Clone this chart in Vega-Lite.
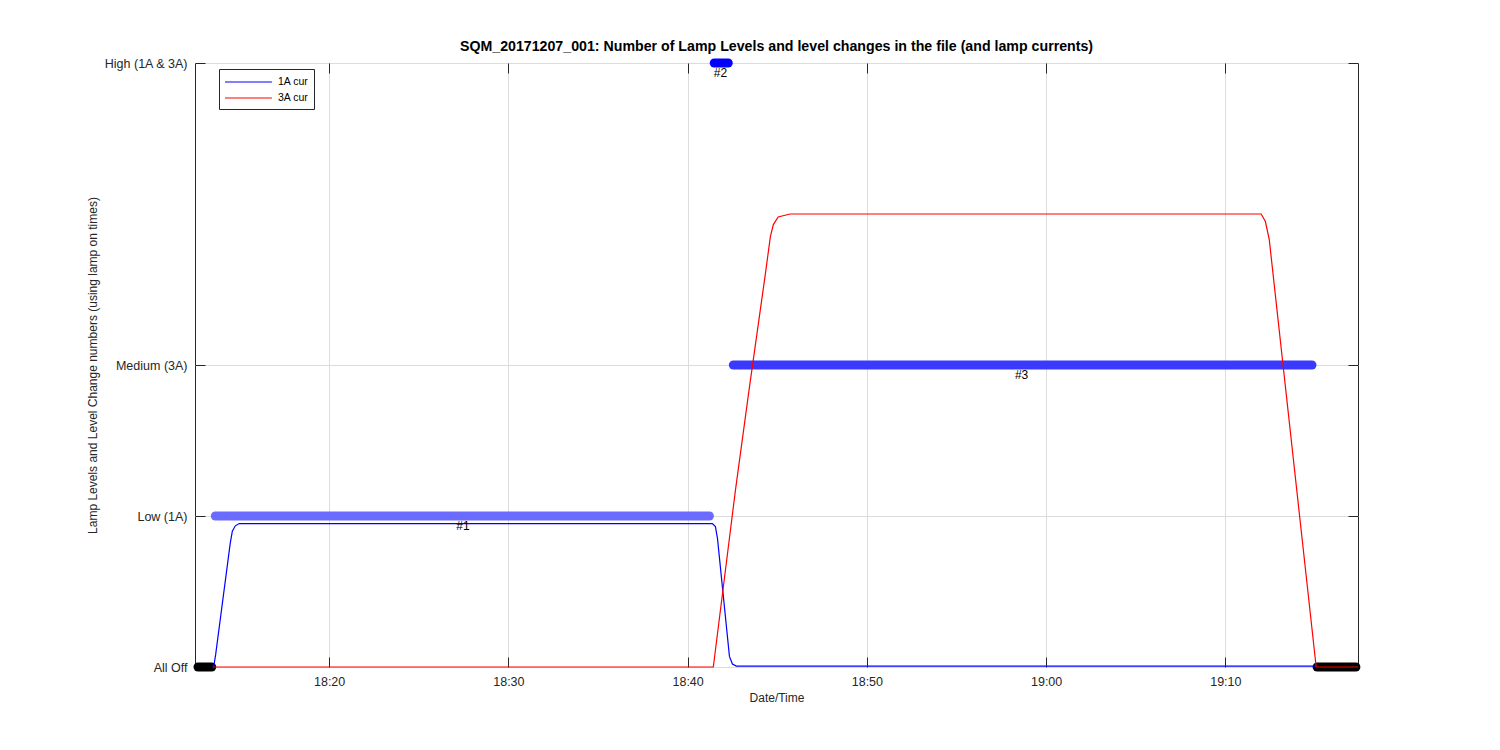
{
  "$schema": "https://vega.github.io/schema/vega-lite/v6.json",
  "autosize": "none",
  "width": 1163,
  "height": 604,
  "padding": {"left": 195, "top": 63, "right": 142, "bottom": 83},
  "background": "white",
  "config": {
    "font": "Liberation Sans",
    "view": {"stroke": "#262626", "strokeWidth": 1},
    "axis": {"labelFont": "Liberation Sans", "titleFont": "Liberation Sans", "labelColor": "#262626", "titleColor": "#262626", "labelFontSize": 12.5, "titleFontSize": 12, "titleFontWeight": "normal", "gridColor": "#dcdcdc", "gridWidth": 1, "domain": false, "tickColor": "#262626"}
  },
  "title": {"text": "SQM_20171207_001: Number of Lamp Levels and level changes in the file (and lamp currents)", "fontSize": 14.2, "fontWeight": "bold", "font": "Liberation Sans", "color": "#000000", "anchor": "middle", "frame": "group", "offset": -9},
  "datasets": {
    "dots": [
      {"time": "2017-12-07T18:12:41", "level": 0, "seg": "offL"},
      {"time": "2017-12-07T18:13:27", "level": 0, "seg": "offL"},
      {"time": "2017-12-07T18:13:39", "level": 1, "seg": "low"},
      {"time": "2017-12-07T18:41:13", "level": 1, "seg": "low"},
      {"time": "2017-12-07T18:41:29", "level": 4, "seg": "high"},
      {"time": "2017-12-07T18:42:16", "level": 4, "seg": "high"},
      {"time": "2017-12-07T18:42:33", "level": 2, "seg": "med"},
      {"time": "2017-12-07T19:14:50", "level": 2, "seg": "med"},
      {"time": "2017-12-07T19:15:07", "level": 0, "seg": "offR"},
      {"time": "2017-12-07T19:17:17", "level": 0, "seg": "offR"}
    ],
    "cur": [
      {"time": "2017-12-07T18:13:31", "value": 0, "series": "1A cur"},
      {"time": "2017-12-07T18:13:35", "value": 0.02, "series": "1A cur"},
      {"time": "2017-12-07T18:13:40", "value": 0.08, "series": "1A cur"},
      {"time": "2017-12-07T18:14:29", "value": 0.82, "series": "1A cur"},
      {"time": "2017-12-07T18:14:36", "value": 0.9, "series": "1A cur"},
      {"time": "2017-12-07T18:14:46", "value": 0.935, "series": "1A cur"},
      {"time": "2017-12-07T18:14:59", "value": 0.95, "series": "1A cur"},
      {"time": "2017-12-07T18:41:23", "value": 0.95, "series": "1A cur"},
      {"time": "2017-12-07T18:41:33", "value": 0.93, "series": "1A cur"},
      {"time": "2017-12-07T18:41:40", "value": 0.85, "series": "1A cur"},
      {"time": "2017-12-07T18:42:20", "value": 0.07, "series": "1A cur"},
      {"time": "2017-12-07T18:42:30", "value": 0.02, "series": "1A cur"},
      {"time": "2017-12-07T18:42:43", "value": 0.006, "series": "1A cur"},
      {"time": "2017-12-07T19:15:04", "value": 0.006, "series": "1A cur"},
      {"time": "2017-12-07T18:13:31", "value": 0, "series": "3A cur"},
      {"time": "2017-12-07T18:41:26", "value": 0, "series": "3A cur"},
      {"time": "2017-12-07T18:42:40", "value": 1.17, "series": "3A cur"},
      {"time": "2017-12-07T18:43:26", "value": 1.84, "series": "3A cur"},
      {"time": "2017-12-07T18:44:20", "value": 2.6, "series": "3A cur"},
      {"time": "2017-12-07T18:44:37", "value": 2.85, "series": "3A cur"},
      {"time": "2017-12-07T18:44:47", "value": 2.93, "series": "3A cur"},
      {"time": "2017-12-07T18:45:03", "value": 2.98, "series": "3A cur"},
      {"time": "2017-12-07T18:45:43", "value": 3.0, "series": "3A cur"},
      {"time": "2017-12-07T19:12:00", "value": 3.0, "series": "3A cur"},
      {"time": "2017-12-07T19:12:14", "value": 2.95, "series": "3A cur"},
      {"time": "2017-12-07T19:12:27", "value": 2.83, "series": "3A cur"},
      {"time": "2017-12-07T19:15:04", "value": 0, "series": "3A cur"},
      {"time": "2017-12-07T19:17:24", "value": 0, "series": "3A cur"}
    ],
    "labels": [
      {"time": "2017-12-07T18:27:28", "level": 1, "label": "#1"},
      {"time": "2017-12-07T18:41:50", "level": 4, "label": "#2"},
      {"time": "2017-12-07T18:58:38", "level": 2, "label": "#3"}
    ]
  },
  "resolve": {"scale": {"color": "independent"}, "axis": {"x": "independent", "y": "independent"}},
  "layer": [
    {
      "data": {"name": "dots"},
      "mark": {"type": "line", "strokeWidth": 9, "strokeCap": "round"},
      "encoding": {
        "x": {"field": "time", "type": "temporal",
          "scale": {"domain": [{"year": 2017, "month": 12, "date": 7, "hours": 18, "minutes": 12, "seconds": 31}, {"year": 2017, "month": 12, "date": 7, "hours": 19, "minutes": 17, "seconds": 24}]},
          "axis": {"title": "Date/Time", "format": "%H:%M", "values": [
            {"year": 2017, "month": 12, "date": 7, "hours": 18, "minutes": 20},
            {"year": 2017, "month": 12, "date": 7, "hours": 18, "minutes": 30},
            {"year": 2017, "month": 12, "date": 7, "hours": 18, "minutes": 40},
            {"year": 2017, "month": 12, "date": 7, "hours": 18, "minutes": 50},
            {"year": 2017, "month": 12, "date": 7, "hours": 19, "minutes": 0},
            {"year": 2017, "month": 12, "date": 7, "hours": 19, "minutes": 10}],
            "tickSize": -10, "labelPadding": 18, "titlePadding": 5, "grid": true}},
        "y": {"field": "level", "type": "quantitative",
          "axis": {"title": "Lamp Levels and Level Change numbers (using lamp on times)", "values": [0, 1, 2, 4], "labelExpr": "datum.value == 0 ? 'All Off' : datum.value == 1 ? 'Low (1A)' : datum.value == 2 ? 'Medium (3A)' : 'High (1A & 3A)'", "tickSize": -10, "labelPadding": 18, "grid": true, "titleX": -103, "titleY": 302, "titleBaseline": "middle"}},
        "detail": {"field": "seg"},
        "color": {"field": "seg", "type": "nominal", "legend": null, "scale": {"domain": ["offL", "low", "high", "med", "offR"], "range": ["#000000", "#6b6bff", "#0000ff", "#3a3aff", "#000000"]}}
      }
    },
    {
      "data": {"name": "cur"},
      "mark": {"type": "line", "strokeWidth": 1.2},
      "encoding": {
        "x": {"field": "time", "type": "temporal",
          "axis": {"orient": "top", "labels": false, "title": null, "grid": false, "tickSize": -10, "values": [
            {"year": 2017, "month": 12, "date": 7, "hours": 18, "minutes": 20},
            {"year": 2017, "month": 12, "date": 7, "hours": 18, "minutes": 30},
            {"year": 2017, "month": 12, "date": 7, "hours": 18, "minutes": 40},
            {"year": 2017, "month": 12, "date": 7, "hours": 18, "minutes": 50},
            {"year": 2017, "month": 12, "date": 7, "hours": 19, "minutes": 0},
            {"year": 2017, "month": 12, "date": 7, "hours": 19, "minutes": 10}]}},
        "y": {"field": "value", "type": "quantitative",
          "axis": {"orient": "right", "labels": false, "title": null, "grid": false, "tickSize": -10, "values": [0, 1, 2, 4]}},
        "color": {"field": "series", "type": "nominal", "scale": {"domain": ["1A cur", "3A cur"], "range": ["#0000ff", "#ff0000"]},
          "legend": {"title": null, "orient": "none", "legendX": 24, "legendY": 6, "symbolType": "M-1,0H5.7", "symbolSize": 196, "symbolStrokeWidth": 1.2, "labelFontSize": 10.5, "labelColor": "#000000", "strokeColor": "#262626", "fillColor": "white", "padding": 5, "labelOffset": 38, "rowPadding": 2}}
      }
    },
    {
      "data": {"name": "labels"},
      "mark": {"type": "text", "fontSize": 12, "color": "#000000", "baseline": "middle", "dy": 10},
      "encoding": {
        "x": {"field": "time", "type": "temporal", "axis": null},
        "y": {"field": "level", "type": "quantitative", "axis": null},
        "text": {"field": "label"}
      }
    }
  ]
}
